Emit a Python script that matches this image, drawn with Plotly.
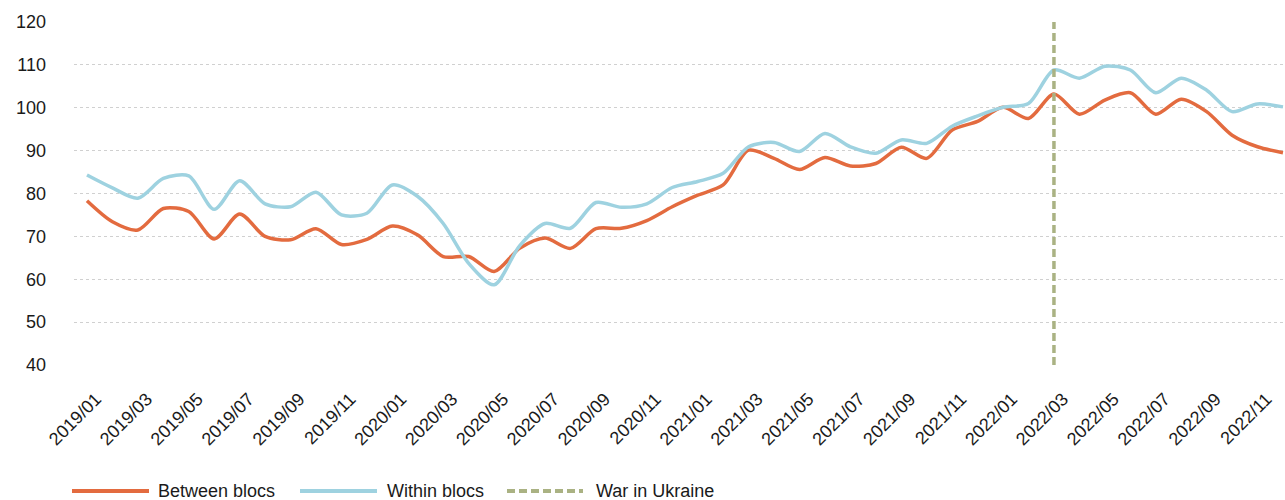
import plotly.graph_objects as go

# ---- data ----
months = [f"{y}/{m:02d}" for y in range(2019, 2023) for m in range(1, 13)]

between_blocs = [78.3, 73.4, 71.5, 76.5, 75.8, 69.4, 75.2, 70.0, 69.2, 71.8,
                 68.1, 69.3, 72.4, 70.3, 65.3, 65.3, 61.8, 67.2, 69.6, 67.2,
                 71.8, 71.9, 73.7, 76.9, 79.6, 82.0, 90.1, 88.2, 85.6, 88.4,
                 86.4, 87.0, 90.8, 88.2, 94.8, 96.8, 100.1, 97.5, 103.2, 98.5,
                 101.8, 103.5, 98.5, 102.0, 99.1, 93.6, 90.9, 89.5]

within_blocs = [84.3, 81.3, 78.9, 83.5, 84.1, 76.3, 83.0, 77.6, 76.9, 80.3,
                75.0, 75.4, 82.0, 79.3, 73.0, 63.7, 58.7, 67.8, 73.0, 71.9,
                77.9, 76.8, 77.6, 81.4, 82.8, 84.7, 90.9, 91.9, 89.8, 94.0,
                90.9, 89.4, 92.5, 91.7, 95.7, 98.1, 100.1, 101.0, 108.8, 106.9,
                109.7, 108.8, 103.5, 106.9, 104.1, 99.1, 100.9, 100.2]

war_month = "2022/03"
war_span = [40, 120]

tick_labels = months[::2]
y_ticks = [40, 50, 60, 70, 80, 90, 100, 110, 120]

# ---- style ----
RED = "#E36B3F"
BLUE = "#9ED2E0"
OLIVE = "#AAB283"
FONT = "Liberation Sans, Arial, Helvetica, sans-serif"
TXT = "#1a1a1a"

W, H = 1285, 500
ML, MR, MT, MB = 74, 0, 22, 135
PW, PH = W - ML - MR, H - MT - MB

fig = go.Figure()
fig.add_trace(go.Scatter(x=months, y=between_blocs, name="Between blocs", mode="lines",
                         line=dict(color=RED, width=3.5, shape="spline", smoothing=0.8),
                         showlegend=False))
fig.add_trace(go.Scatter(x=months, y=within_blocs, name="Within blocs", mode="lines",
                         line=dict(color=BLUE, width=3.5, shape="spline", smoothing=0.8),
                         showlegend=False))
fig.add_trace(go.Scatter(x=[war_month, war_month], y=war_span, name="War in Ukraine", mode="lines",
                         line=dict(color=OLIVE, width=3.5, dash="8px,4px"),
                         showlegend=False))

# custom legend (pixel layout converted to paper coords)
def px_x(p):
    return (p - ML) / PW

def px_y(p):
    return (H - MB - p) / PH

legend_items = [
    ("Between blocs", RED, "solid", 72, 149, 156),
    ("Within blocs", BLUE, "solid", 300, 377, 385),
    ("War in Ukraine", OLIVE, "8px,4px", 507, 583, 594),
]
ly = 491
for label, col, dash, x0, x1, tx in legend_items:
    fig.add_shape(type="line", xref="paper", yref="paper",
                  x0=px_x(x0), x1=px_x(x1), y0=px_y(ly), y1=px_y(ly),
                  line=dict(color=col, width=4, dash=dash))
    fig.add_annotation(xref="paper", yref="paper", x=px_x(tx), y=px_y(ly),
                       text=label, showarrow=False, xanchor="left", yanchor="middle",
                       font=dict(family=FONT, size=18, color=TXT))

fig.update_layout(
    width=W, height=H,
    margin=dict(l=ML, r=MR, t=MT, b=MB),
    paper_bgcolor="white", plot_bgcolor="white",
    font=dict(family=FONT, size=18, color=TXT),
    showlegend=False,
    xaxis=dict(
        type="category", range=[-0.51, 47.08],
        tickmode="array", tickvals=tick_labels, ticktext=tick_labels,
        tickangle=-45, showgrid=False, showline=False, zeroline=False,
        ticks="", ticklabelstandoff=19, ticklabelshift=9,
        tickfont=dict(family=FONT, size=18, color=TXT),
    ),
    yaxis=dict(
        range=[40, 120], tickmode="array", tickvals=y_ticks,
        showgrid=True, gridcolor="#d0d0d0", griddash="dot", gridwidth=1,
        showline=False, zeroline=False, ticks="", ticklabelstandoff=27,
        tickfont=dict(family=FONT, size=18, color=TXT),
    ),
)

fig.write_html("out.html", config={"displayModeBar": False},
               post_script="document.body.style.margin='0';")
